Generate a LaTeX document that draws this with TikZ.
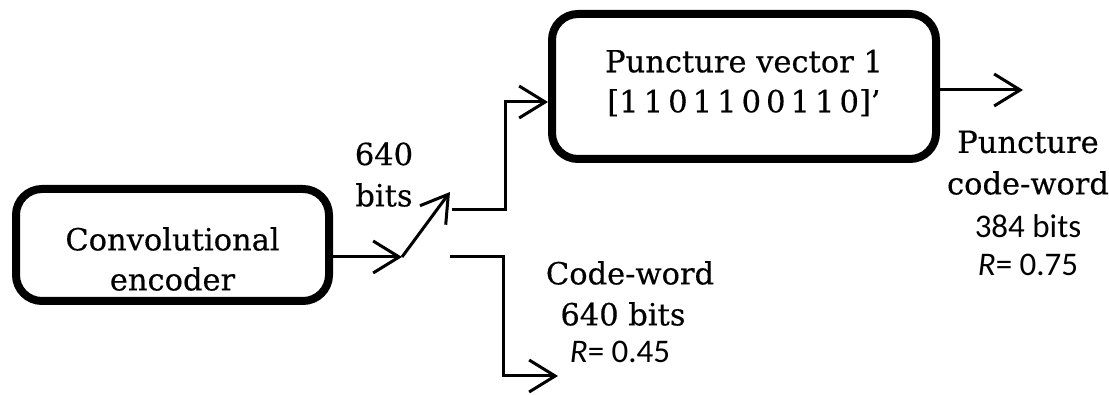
\documentclass[tikz,border=0pt]{standalone}
\usepackage{fontspec}
\setmainfont{DejaVu Serif}[FakeBold=0.4]
\newfontfamily\carl{Carlito}
\usetikzlibrary{arrows.meta}
\begin{document}
\begin{tikzpicture}[x=1pt,y=-1pt,
  blockbox/.style={draw,line width=8pt,rounded corners=26pt,inner sep=0pt},
  blocktext/.style={align=center,inner sep=0pt,font=\fontsize{30.5}{40}\selectfont},
  conn/.style={line width=3pt},
  arr/.style={conn,-{Straight Barb[length=26pt,width=32pt]}},
  serlab/.style={font=\fontsize{30.5}{41}\selectfont,inner sep=0pt},
  sanslab/.style={font=\carl\fontsize{33}{40}\selectfont,inner sep=0pt}]
\useasboundingbox (0,0) rectangle (1109,395);
\node[blockbox,minimum width=313pt,minimum height=112pt] (conv) at (172.5,245) {};
\node[blocktext] (convtext) at (172.5,259) {Convolutional\\encoder};
\node[blockbox,minimum width=384pt,minimum height=145pt] (punct) at (744,86.5) {};
\node[blocktext] (puncttext) at (744,83) {Puncture vector 1\\{}[1\,1\,0\,1\,1\,0\,0\,1\,1\,0]’};
\coordinate (pivot) at (402,257);
\coordinate (swtip) at (450,192);
\coordinate (upc) at (452,210);
\coordinate (upv) at (505,210);
\coordinate (loc) at (450,257);
\coordinate (lov) at (503,257);
\coordinate (loend) at (558,376);
\coordinate (outend) at (1023,90);
\draw[arr] (conv.east |- pivot) -- (pivot);
\draw[arr] (pivot) -- (swtip);
\draw[arr] (upc) -- (upv) |- (punct.west |- 0,102);
\draw[arr] (loc) -- (lov) |- (loend);
\draw[arr] (punct.east |- outend) -- (outend);
\node[serlab] (b640a) at (384,154) {640};
\node[serlab] (b640b) at (384,195) {bits};
\node[serlab] (pc1) at (1028,142) {Puncture};
\node[serlab] (pc2) at (1028,183) {code-word};
\node[sanslab] (pc3) at (1028,226) {384 bits};
\node[sanslab] (pc4) at (1028,265) {\textit{R}= 0.75};
\node[serlab] (cw1) at (630,273) {Code-word};
\node[serlab] (cw2) at (623,314) {640 bits};
\node[sanslab] (cw3) at (620,352) {\textit{R}= 0.45};
\end{tikzpicture}
\end{document}
